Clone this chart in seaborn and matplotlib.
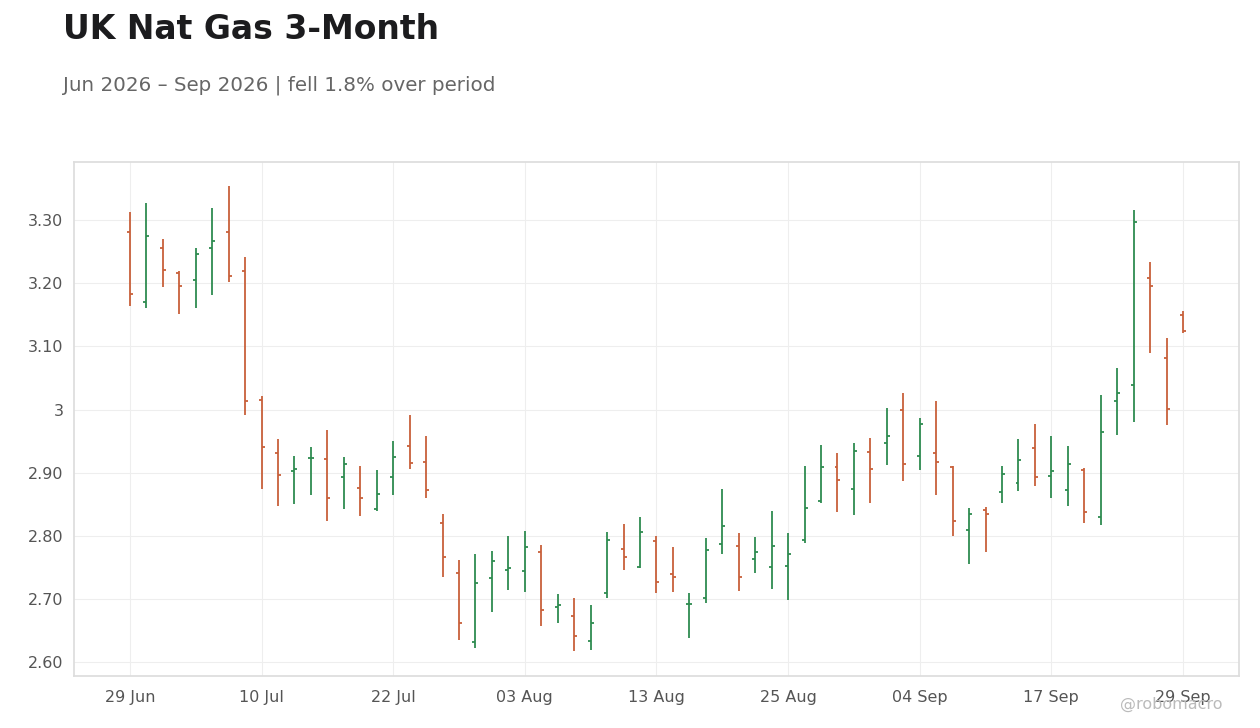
import matplotlib
matplotlib.use("Agg")
import matplotlib.pyplot as plt
import seaborn as sns
import pandas as pd
import numpy as np

opens = [3.281,3.170,3.256,3.216,3.205,3.256,3.281,3.219,3.015,2.931,2.902,2.923,2.921,2.893,2.875,2.842,2.893,2.942,2.917,2.820,
         2.741,2.632,2.733,2.746,2.744,2.774,2.687,2.673,2.633,2.709,2.779,2.750,2.792,2.739,2.692,2.701,2.787,2.784,2.763,2.750,
         2.753,2.793,2.855,2.909,2.874,2.932,2.947,2.999,2.926,2.931,2.909,2.809,2.841,2.869,2.883,2.939,2.894,2.872,2.904,2.830,
         3.013,3.039,3.208,3.081,3.150]
highs = [3.313,3.327,3.270,3.219,3.256,3.319,3.354,3.241,3.021,2.953,2.926,2.940,2.967,2.925,2.910,2.904,2.950,2.991,2.958,2.834,
         2.761,2.771,2.776,2.800,2.807,2.785,2.708,2.701,2.690,2.806,2.818,2.830,2.799,2.782,2.709,2.796,2.874,2.804,2.798,2.839,
         2.804,2.910,2.944,2.931,2.947,2.955,3.002,3.026,2.986,3.013,2.910,2.844,2.846,2.910,2.953,2.977,2.958,2.942,2.907,3.023,
         3.066,3.316,3.233,3.113,3.156]
lows = [3.164,3.161,3.194,3.151,3.161,3.181,3.202,2.991,2.874,2.847,2.850,2.864,2.823,2.842,2.831,2.839,2.864,2.906,2.860,2.735,
        2.635,2.622,2.679,2.714,2.711,2.658,2.662,2.617,2.619,2.701,2.746,2.749,2.709,2.711,2.638,2.693,2.771,2.712,2.741,2.716,
        2.698,2.788,2.852,2.837,2.833,2.852,2.912,2.887,2.904,2.864,2.800,2.755,2.774,2.852,2.871,2.879,2.860,2.847,2.820,2.817,
        2.959,2.980,3.089,2.975,3.121]
closes = [3.183,3.275,3.221,3.195,3.246,3.267,3.211,3.013,2.940,2.896,2.906,2.923,2.860,2.914,2.860,2.866,2.925,2.915,2.872,2.766,
          2.662,2.725,2.760,2.749,2.782,2.682,2.690,2.641,2.662,2.793,2.766,2.806,2.727,2.735,2.692,2.777,2.815,2.735,2.774,2.784,
          2.771,2.844,2.909,2.888,2.934,2.906,2.958,2.914,2.977,2.917,2.823,2.834,2.834,2.898,2.920,2.893,2.902,2.914,2.837,2.964,
          3.026,3.297,3.195,3.001,3.124]
tick_idx = [0, 8, 16, 24, 32, 40, 48, 56, 64]
tick_labels = ["29 Jun", "10 Jul", "22 Jul", "03 Aug", "13 Aug", "25 Aug", "04 Sep", "17 Sep", "29 Sep"]
y_ticks = [2.60, 2.70, 2.80, 2.90, 3.00, 3.10, 3.20, 3.30]
y_labels = ["2.60", "2.70", "2.80", "2.90", "3", "3.10", "3.20", "3.30"]

df = pd.DataFrame({"i": range(len(opens)), "o": opens, "h": highs, "l": lows, "c": closes})
UP, DOWN = "#2e8b50", "#c8603a"
df["col"] = np.where(df.c >= df.o, UP, DOWN)

sns.set_theme(style="white")
plt.rcParams['font.family'] = ['DejaVu Sans']
fig = plt.figure(figsize=(12.6, 7.28), dpi=100)
ax = fig.add_axes([0.0587, 0.0714, 0.9246, 0.7061])

ax.vlines(df.i, df.l, df.h, colors=df.col, lw=1.3)
ax.hlines(df.o, df.i - 0.18, df.i, colors=df.col, lw=1.3)
ax.hlines(df.c, df.i, df.i + 0.18, colors=df.col, lw=1.3)

ax.set_xlim(-3.4, 67.4)
ax.set_ylim(2.578, 3.392)
ax.set_xticks(tick_idx)
ax.set_xticklabels(tick_labels)
ax.set_yticks(y_ticks)
ax.set_yticklabels(y_labels)
ax.grid(True, color="#eeeeee", lw=0.8)
ax.set_axisbelow(True)
for s in ax.spines.values():
    s.set_color("#dddddd")
ax.tick_params(axis="both", colors="#555555", labelsize=11.5, length=4, color="#cccccc")
ax.tick_params(axis="x", pad=6)

fig.text(0.05, 0.96, "UK Nat Gas 3-Month", fontsize=23.8, fontweight="bold", color="#1c1c1e", va="center")
fig.text(0.05, 0.883, "Jun 2026 – Sep 2026 | fell 1.8% over period", fontsize=14.3, color="#666666", va="center")
fig.text(0.97, 0.032, "@robomacro", fontsize=11.5, color="#bbbbbb", ha="right", va="center")

fig.savefig("out.png", dpi=100)
